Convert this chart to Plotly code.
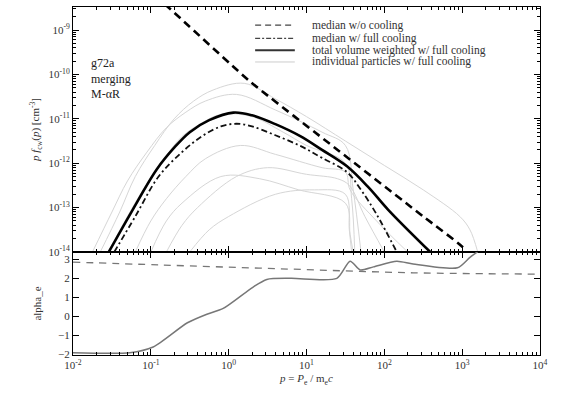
import plotly.graph_objects as go
from plotly.subplots import make_subplots

# ---------------- data (log10 values) ----------------
# median w/o cooling
med_nocool_lx = [-1.2, -0.78, 0.275, 1.4, 2.5, 3.0, 3.05]
med_nocool_ly = [-7.85, -8.48, -10.16, -11.7, -13.2, -13.88, -14.05]
# median w/ full cooling
med_cool_lx = [-1.47, -1.2, -0.9, -0.6, -0.35, -0.1, 0.1, 0.3, 0.6, 0.92, 1.2, 1.52, 1.7, 1.9, 2.16]
med_cool_ly = [-14.0, -13.2, -12.3, -11.75, -11.4, -11.17, -11.11, -11.17, -11.37, -11.61,
               -11.88, -12.2, -12.6, -13.15, -14.0]
# total volume weighted w/ full cooling
tot_lx = [-1.54, -1.25, -0.925, -0.7, -0.5, -0.25, 0.06, 0.3, 0.6, 0.92, 1.2, 1.52, 1.8, 2.05, 2.59]
tot_ly = [-14.0, -13.1, -12.14, -11.65, -11.3, -11.03, -10.86, -10.92, -11.12, -11.39,
          -11.7, -12.07, -12.55, -13.05, -14.0]
# individual particles w/ full cooling
ind_lx = [
    [-1.65, -1.4, -1.2, -0.95, -0.7, -0.45, -0.2, 0.2, 0.6, 1.0, 1.5, 2.0, 2.5, 2.97, 3.1, 3.2],
    [-1.75, -1.5, -1.3, -1.05, -0.8, -0.55, -0.3, 0.1, 0.6, 1.2, 1.5, 1.6, 1.7],
    [-1.55, -1.3, -1.1, -0.85, -0.6, -0.35, -0.1, 0.3, 0.7, 1.0, 1.5, 1.58, 1.62],
    [-1.2, -1.0, -0.8, -0.55, -0.3, 0.15, 0.6, 1.2, 1.5, 1.56, 1.9, 2.3],
    [-0.8, -0.6, -0.4, 0.1, 0.5, 1.0, 1.4, 1.55, 1.75, 2.0],
    [-0.5, -0.25, 0.0, 0.6, 1.1, 1.5, 1.55, 1.58],
    [-1.0, -0.8, -0.6, -0.1, 0.4, 0.9, 1.5, 1.56, 1.6],
]
ind_ly = [
    [-14.0, -13.1, -12.3, -11.6, -11.0, -10.6, -10.35, -10.2, -10.55, -10.95, -11.5, -12.05,
     -12.6, -13.2, -13.5, -14.0],
    [-14.0, -13.1, -12.4, -11.75, -11.2, -10.85, -10.6, -10.45, -10.8, -11.3, -11.6, -12.6, -14.0],
    [-14.0, -13.2, -12.6, -11.95, -11.4, -11.1, -10.9, -10.95, -11.3, -11.6, -12.0, -12.8, -14.0],
    [-14.0, -13.3, -12.8, -12.3, -11.9, -11.6, -11.8, -12.1, -12.2, -12.6, -13.3, -14.0],
    [-14.0, -13.4, -13.0, -12.3, -12.1, -12.25, -12.35, -12.5, -13.2, -14.0],
    [-14.0, -13.5, -13.2, -12.7, -12.6, -12.7, -13.5, -14.0],
    [-14.0, -13.3, -12.9, -12.3, -12.35, -12.6, -12.9, -13.6, -14.0],
]
# alpha_e (bottom panel)
alpha_nocool_lx = [-2.0, -0.88, 0.66, 2.37, 4.0]
alpha_nocool = [2.85, 2.7, 2.5, 2.29, 2.22]
alpha_cool_lx = [-2.0, -1.27, -0.97, -0.53, -0.28, -0.07, 0.31, 0.49, 0.8, 1.39,
                 1.56, 1.69, 1.86, 2.16, 2.37, 2.94, 3.1, 3.2]
alpha_cool = [-1.9, -1.9, -1.6, -0.33, 0.12, 0.42, 1.53, 1.94, 2.0, 2.0,
              2.9, 2.44, 2.6, 2.9, 2.75, 2.55, 3.1, 3.4]

legend_labels = ["median w/o cooling", "median w/ full cooling",
                 "total volume weighted w/ full cooling",
                 "individual particles w/ full cooling"]
x_exps = [-2, -1, 0, 1, 2, 3, 4]
y_exps = [-14, -13, -12, -11, -10, -9]
alpha_ticks = [-2, -1, 0, 1, 2, 3]

# ---------------- figure ----------------
FONT = "Liberation Serif"
fig = make_subplots(rows=2, cols=1, shared_xaxes=True, vertical_spacing=0,
                    row_heights=[0.704, 0.296])

def p10(v):
    return [10 ** a for a in v]

for lx, ly in zip(ind_lx, ind_ly):
    fig.add_trace(go.Scatter(x=p10(lx), y=p10(ly), mode="lines",
                             line=dict(color="#d6d6d6", width=1, shape="spline", smoothing=1.0),
                             showlegend=False, hoverinfo="skip"), row=1, col=1)

fig.add_trace(go.Scatter(x=p10(tot_lx), y=p10(tot_ly), mode="lines",
                         line=dict(color="black", width=2.6, shape="spline", smoothing=1.0),
                         showlegend=False), row=1, col=1)
fig.add_trace(go.Scatter(x=p10(med_cool_lx), y=p10(med_cool_ly), mode="lines",
                         line=dict(color="#111", width=1.8, dash="6px,3px,2px,3px",
                                   shape="spline", smoothing=1.0),
                         showlegend=False), row=1, col=1)
fig.add_trace(go.Scatter(x=p10(med_nocool_lx), y=p10(med_nocool_ly), mode="lines",
                         line=dict(color="black", width=2.6, dash="8px,5px",
                                   shape="spline", smoothing=0.4),
                         showlegend=False), row=1, col=1)

fig.add_trace(go.Scatter(x=p10(alpha_nocool_lx), y=alpha_nocool, mode="lines",
                         line=dict(color="#777", width=1.3, dash="7px,6px", shape="spline"),
                         showlegend=False), row=2, col=1)
fig.add_trace(go.Scatter(x=p10(alpha_cool_lx), y=alpha_cool, mode="lines",
                         line=dict(color="#777", width=1.5, shape="spline", smoothing=0.7),
                         showlegend=False), row=2, col=1)

axis_common = dict(showline=True, linecolor="black", linewidth=1, mirror="ticks",
                   ticks="inside", ticklen=6, tickcolor="black", showgrid=False,
                   zeroline=False, tickfont=dict(family=FONT, size=11, color="#333"))

x_vals = [10.0 ** e for e in x_exps]
x_text = ["10<sup>%d</sup>" % e for e in x_exps]
y_vals = [10.0 ** e for e in y_exps]
y_text = ["10<sup>%d</sup>" % e for e in y_exps]

fig.update_xaxes(type="log", range=[-2, 4], tickvals=x_vals, ticktext=x_text,
                 minor=dict(ticks="inside", ticklen=3, tickcolor="black", dtick="D1"),
                 **axis_common)
fig.update_xaxes(showticklabels=False, row=1, col=1)
fig.update_xaxes(title=dict(text="<i>p</i> = <i>P</i><sub>e</sub> / m<sub>e</sub><i>c</i>",
                            font=dict(family=FONT, size=11, color="#333"), standoff=4),
                 row=2, col=1)
fig.update_yaxes(type="log", range=[-14, -8.48], tickvals=y_vals, ticktext=y_text,
                 minor=dict(ticks="inside", ticklen=3, tickcolor="black", dtick="D1"),
                 title=dict(text="<i>p f</i><sub>cw</sub>(<i>p</i>) [cm<sup>-3</sup>]",
                            font=dict(family=FONT, size=11, color="#333"), standoff=6),
                 row=1, col=1, **axis_common)
fig.update_yaxes(range=[-2.02, 3.38], tickvals=alpha_ticks,
                 title=dict(text="alpha_e", font=dict(family=FONT, size=11, color="#333"),
                            standoff=14),
                 row=2, col=1, **axis_common)

# label block
fig.add_annotation(xref="paper", yref="paper", x=0.035, y=0.865, xanchor="left",
                   yanchor="top", showarrow=False, align="left",
                   text="g72a<br>merging<br>M-αR",
                   font=dict(family=FONT, size=12, color="#222"))

# manual legend
leg_y = [0.948, 0.910, 0.876, 0.842]
leg_styles = [dict(color="#444", width=1.3, dash="6px,4px"),
              dict(color="#444", width=1.3, dash="5px,2px,2px,2px"),
              dict(color="#333", width=2),
              dict(color="#ccc", width=1)]
for yy, lab, st in zip(leg_y, legend_labels, leg_styles):
    fig.add_shape(type="line", xref="paper", yref="paper", x0=0.39, x1=0.475,
                  y0=yy, y1=yy, line=st)
    fig.add_annotation(xref="paper", yref="paper", x=0.508, y=yy, xanchor="left",
                       yanchor="middle", showarrow=False, text=lab,
                       font=dict(family=FONT, size=11.5, color="#333"))

fig.update_layout(width=564, height=401, margin=dict(l=73, r=24, t=7, b=46),
                  plot_bgcolor="white", paper_bgcolor="white", showlegend=False,
                  font=dict(family=FONT, size=11, color="#333"))
fig.write_html("out.html")
